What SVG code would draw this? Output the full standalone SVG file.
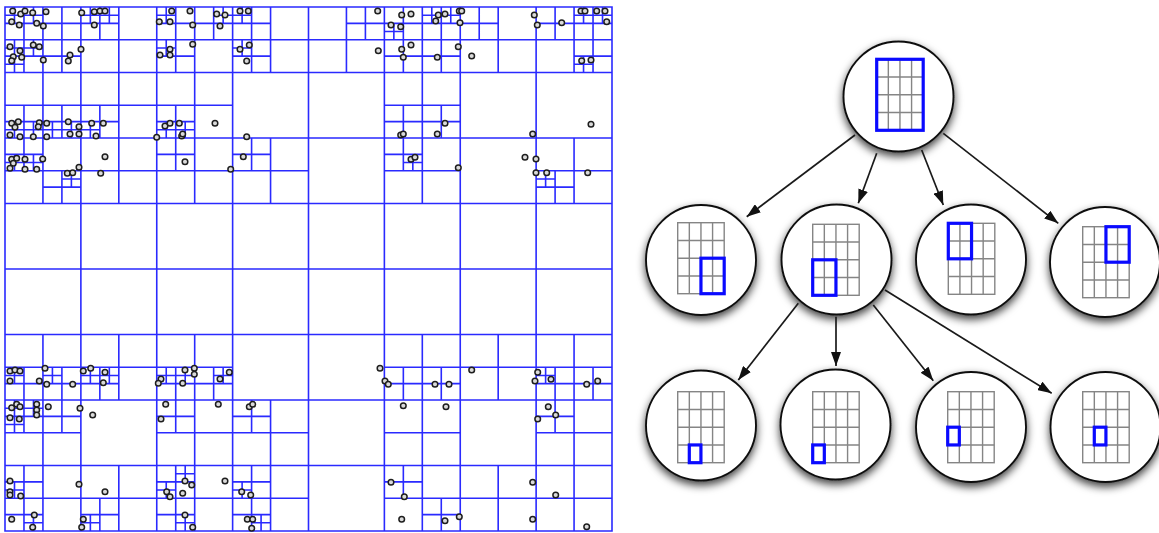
<svg xmlns="http://www.w3.org/2000/svg" width="1159" height="533" viewBox="0 0 1159 533">
<style>
.qt{fill:none;stroke:#2a2aff;stroke-width:1.6;vector-effect:non-scaling-stroke}
.pts circle{fill:#dadada;stroke:#1e1e1e;stroke-width:1.5}
.node{fill:#fff;stroke:#111;stroke-width:1.9;filter:url(#sh)}
.gl{fill:none;stroke:#858585;stroke-width:1.4}
.sel{fill:none;stroke:#0a0aff;stroke-width:3.2}
.edge{fill:none;stroke:#1a1a1a;stroke-width:1.7;marker-end:url(#ah)}
</style>
<defs>
<filter id="sh" x="-30%" y="-30%" width="160%" height="170%"><feDropShadow dx="0" dy="4" stdDeviation="4" flood-color="#000" flood-opacity="0.75"/></filter>
<marker id="ah" viewBox="0 0 14 10" refX="14" refY="5" markerWidth="14" markerHeight="10" markerUnits="userSpaceOnUse" orient="auto"><path d="M0 0L14 5L0 10z" fill="#111"/></marker>
<g id="grid"><rect class="gl" x="0" y="0" width="46.5" height="71"/><path class="gl" d="M11.625 0V71M23.25 0V71M34.875 0V71M0 17.75H46.5M0 35.5H46.5M0 53.25H46.5"/></g>
</defs>
<rect width="1159" height="533" fill="#fff"/>
<g id="quadtree" transform="translate(5 7) scale(9.484375 8.1875)">
<path class="qt" d="M0 0H64V64H0ZM8 0V64M16 0V64M24 0V64M32 0V64M40 0V64M48 0V64M56 0V64M0 8H64M0 16H64M0 24H64M0 32H64M0 40H64M0 48H64M0 56H64"/>
<path class="qt" d="M0 4h8M4 0v8M0 2h4M2 0v4M0 1h2M1 0v2M2 1h2M3 0v2M4 2h4M6 0v4M0 6h4M2 4v4M0 5h2M1 4v2M2 5h2M3 4v2M0 7h2M1 6v2M4 6h4M6 4v4
M8 4h8M12 0v8M8 2h4M10 0v4M8 1h2M9 0v2M10 1h2M11 0v2
M16 4h8M20 0v8M16 2h4M18 0v4M16 1h2M17 0v2M20 2h4M22 0v4M22 1h2M23 0v2M16 6h4M18 4v4M16 5h2M17 4v2
M24 4h8M28 0v8M24 2h4M26 0v4M24 1h2M25 0v2M24 6h4M26 4v4M24 5h2M25 4v2
M32 4h8M36 0v8M36 2h4M38 0v4
M40 4h8M44 0v8M40 2h4M42 0v4M40 3h2M41 2v2M44 2h4M46 0v4M44 1h2M45 0v2M46 1h2M47 0v2M40 6h4M42 4v4M44 6h4M46 4v4
M48 4h8M52 0v8M48 2h4M50 0v4
M56 4h8M60 0v8M56 2h4M58 0v4M60 2h4M62 0v4M60 1h2M61 0v2M62 1h2M63 0v2M60 6h4M62 4v4M60 7h2M61 6v2
M0 12h8M4 8v8M0 14h4M2 12v4M0 15h2M1 14v2M2 15h2M3 14v2M4 14h4M6 12v4M4 15h2M5 14v2M6 15h2M7 14v2
M8 12h8M12 8v8M8 14h4M10 12v4M8 15h2M9 14v2
M16 12h8M20 8v8M16 14h4M18 12v4M16 15h2M17 14v2M18 15h2M19 14v2
M40 12h8M44 8v8M40 14h4M42 12v4M44 14h4M46 12v4
M0 20h8M4 16v8M0 18h4M2 16v4M0 19h2M1 18v2M2 19h2M3 18v2M4 22h4M6 20v4M6 21h2M7 20v2
M8 20h8M12 16v8
M16 20h8M20 16v8M16 18h4M18 16v4
M24 20h8M28 16v8M24 18h4M26 16v4
M40 20h8M44 16v8M40 18h4M42 16v4M42 19h2M43 18v2
M56 20h8M60 16v8M56 22h4M58 20v4M56 21h2M57 20v2
M0 44h8M4 40v8M0 46h4M2 44v4M0 45h2M1 44v2M4 46h4M6 44v4M4 45h2M5 44v2
M8 44h8M12 40v8M8 46h4M10 44v4M8 45h2M9 44v2M10 45h2M11 44v2
M16 44h8M20 40v8M16 46h4M18 44v4M16 45h2M17 44v2M18 45h2M19 44v2M20 46h4M22 44v4M22 45h2M23 44v2
M40 44h8M44 40v8M40 46h4M42 44v4M44 46h4M46 44v4
M48 44h8M52 40v8
M56 44h8M60 40v8M56 46h4M58 44v4M56 45h2M57 44v2M60 46h4M62 44v4
M0 52h8M4 48v8M0 50h4M2 48v4M0 49h2M1 48v2M2 49h2M3 48v2M0 51h2M1 50v2M4 50h4M6 48v4
M16 52h8M20 48v8M16 50h4M18 48v4
M24 52h8M28 48v8M24 50h4M26 48v4
M40 52h8M44 48v8
M56 52h8M60 48v8M56 50h4M58 48v4
M0 60h8M4 56v8M0 58h4M2 56v4M0 59h2M1 58v2M0 62h4M2 60v4M2 63h2M3 62v2
M8 60h8M12 56v8M8 62h4M10 60v4M8 63h2M9 62v2
M16 60h8M20 56v8M16 58h4M18 56v4M18 57h2M19 56v2M16 59h2M17 58v2M16 62h4M18 60v4M18 63h2M19 62v2
M24 60h8M28 56v8M24 58h4M26 56v4M24 59h2M25 58v2M24 62h4M26 60v4M26 63h2M27 62v2
M40 60h8M44 56v8M40 58h4M42 56v4M44 62h4M46 60v4
M48 60h8M52 56v8
M56 60h8M60 56v8"/>
</g>
<g id="points" class="pts">
<circle cx="12.7" cy="11" r="2.8"/><circle cx="20.7" cy="14" r="2.8"/><circle cx="25" cy="11" r="2.8"/><circle cx="32.7" cy="12.7" r="2.8"/><circle cx="46" cy="11.7" r="2.8"/><circle cx="11.7" cy="21.7" r="2.8"/><circle cx="19.3" cy="25" r="2.8"/><circle cx="36.7" cy="23.3" r="2.8"/><circle cx="43.3" cy="26" r="2.8"/>
<circle cx="81.7" cy="12.7" r="2.8"/><circle cx="94.3" cy="11.7" r="2.8"/><circle cx="100" cy="11" r="2.8"/><circle cx="105" cy="11" r="2.8"/><circle cx="94.3" cy="25" r="2.8"/>
<circle cx="171.7" cy="11" r="2.8"/><circle cx="190" cy="11" r="2.8"/><circle cx="159.3" cy="21.7" r="2.8"/><circle cx="170" cy="21.7" r="2.8"/><circle cx="192.7" cy="25" r="2.8"/><circle cx="216.7" cy="14" r="2.8"/><circle cx="225" cy="15" r="2.8"/><circle cx="220" cy="26" r="2.8"/><circle cx="240" cy="11" r="2.8"/><circle cx="248.3" cy="11" r="2.8"/>
<circle cx="10" cy="46.7" r="2.8"/><circle cx="20" cy="50.7" r="2.8"/><circle cx="13.3" cy="56.7" r="2.8"/><circle cx="11.7" cy="60.7" r="2.8"/><circle cx="21.7" cy="57.3" r="2.8"/><circle cx="33.3" cy="45" r="2.8"/><circle cx="39.3" cy="46.7" r="2.8"/><circle cx="43.3" cy="60" r="2.8"/><circle cx="70" cy="55" r="2.8"/><circle cx="68.3" cy="61" r="2.8"/><circle cx="81" cy="49.3" r="2.8"/>
<circle cx="192.7" cy="44.3" r="2.8"/><circle cx="170" cy="49.3" r="2.8"/><circle cx="160" cy="55" r="2.8"/><circle cx="170" cy="55" r="2.8"/><circle cx="240" cy="49.3" r="2.8"/><circle cx="249.3" cy="45" r="2.8"/><circle cx="246.7" cy="61" r="2.8"/>
<circle cx="11.7" cy="123.3" r="2.8"/><circle cx="18.3" cy="121.7" r="2.8"/><circle cx="15" cy="127.3" r="2.8"/><circle cx="10" cy="135" r="2.8"/><circle cx="20" cy="136.7" r="2.8"/><circle cx="33.3" cy="136.7" r="2.8"/><circle cx="39.3" cy="122.7" r="2.8"/><circle cx="46.7" cy="123.3" r="2.8"/><circle cx="38.3" cy="126.7" r="2.8"/><circle cx="46.7" cy="136.7" r="2.8"/><circle cx="68.3" cy="121.7" r="2.8"/><circle cx="79" cy="126.7" r="2.8"/><circle cx="70" cy="134" r="2.8"/><circle cx="79" cy="134" r="2.8"/>
<circle cx="91.7" cy="123.3" r="2.8"/><circle cx="103.3" cy="123.3" r="2.8"/><circle cx="96" cy="136" r="2.8"/><circle cx="165" cy="126" r="2.8"/><circle cx="170" cy="123.3" r="2.8"/><circle cx="179.3" cy="123.3" r="2.8"/><circle cx="156.7" cy="137.3" r="2.8"/><circle cx="181.7" cy="136" r="2.8"/><circle cx="182.7" cy="134" r="2.8"/><circle cx="215" cy="123.3" r="2.8"/><circle cx="246.7" cy="136.7" r="2.8"/>
<circle cx="11.7" cy="159.3" r="2.8"/><circle cx="16.7" cy="158.3" r="2.8"/><circle cx="13.3" cy="163.3" r="2.8"/><circle cx="10" cy="168.3" r="2.8"/><circle cx="25" cy="159.3" r="2.8"/><circle cx="25" cy="169.3" r="2.8"/><circle cx="36.7" cy="169.3" r="2.8"/><circle cx="42.7" cy="159" r="2.8"/><circle cx="67.3" cy="173.3" r="2.8"/><circle cx="72.7" cy="172.7" r="2.8"/><circle cx="79" cy="167.3" r="2.8"/><circle cx="100.7" cy="173.3" r="2.8"/><circle cx="105" cy="156.7" r="2.8"/><circle cx="185" cy="161.7" r="2.8"/><circle cx="243.3" cy="156.7" r="2.8"/><circle cx="230.7" cy="169.3" r="2.8"/>
<circle cx="377.7" cy="11" r="2.8"/><circle cx="401.7" cy="15" r="2.8"/><circle cx="411" cy="14" r="2.8"/><circle cx="391" cy="25" r="2.8"/><circle cx="400.7" cy="26.7" r="2.8"/><circle cx="435.7" cy="21" r="2.8"/><circle cx="438.3" cy="15" r="2.8"/><circle cx="445" cy="14" r="2.8"/><circle cx="459.3" cy="11" r="2.8"/><circle cx="461.7" cy="11" r="2.8"/><circle cx="460" cy="22.7" r="2.8"/><circle cx="534.3" cy="15" r="2.8"/><circle cx="537.3" cy="25" r="2.8"/><circle cx="561.7" cy="22.7" r="2.8"/><circle cx="581" cy="11" r="2.8"/><circle cx="585" cy="11" r="2.8"/><circle cx="596.7" cy="11" r="2.8"/><circle cx="605" cy="11" r="2.8"/><circle cx="606.7" cy="21.7" r="2.8"/>
<circle cx="378.3" cy="50.7" r="2.8"/><circle cx="401.7" cy="49.3" r="2.8"/><circle cx="411" cy="45" r="2.8"/><circle cx="403.3" cy="57.3" r="2.8"/><circle cx="437.3" cy="57.3" r="2.8"/><circle cx="458.3" cy="46.7" r="2.8"/><circle cx="471.7" cy="56" r="2.8"/><circle cx="581.7" cy="60.7" r="2.8"/><circle cx="591" cy="60" r="2.8"/>
<circle cx="445" cy="123.3" r="2.8"/><circle cx="437.3" cy="134" r="2.8"/><circle cx="400.7" cy="135" r="2.8"/><circle cx="403.3" cy="134" r="2.8"/><circle cx="532.7" cy="134" r="2.8"/><circle cx="591" cy="124.3" r="2.8"/>
<circle cx="411" cy="159.3" r="2.8"/><circle cx="415" cy="157.3" r="2.8"/><circle cx="458.3" cy="167.7" r="2.8"/><circle cx="525" cy="157.3" r="2.8"/><circle cx="536" cy="159" r="2.8"/><circle cx="536" cy="172.7" r="2.8"/><circle cx="546.7" cy="172.7" r="2.8"/><circle cx="587.7" cy="172.7" r="2.8"/>
<circle cx="10" cy="371" r="2.8"/><circle cx="15" cy="370" r="2.8"/><circle cx="20" cy="371" r="2.8"/><circle cx="10" cy="381" r="2.8"/><circle cx="45" cy="368.3" r="2.8"/><circle cx="39.3" cy="381" r="2.8"/><circle cx="46.7" cy="384.3" r="2.8"/><circle cx="72.7" cy="384.3" r="2.8"/><circle cx="83.3" cy="371" r="2.8"/><circle cx="90.7" cy="368.3" r="2.8"/><circle cx="105" cy="372.3" r="2.8"/><circle cx="103.3" cy="382.7" r="2.8"/>
<circle cx="161" cy="379" r="2.8"/><circle cx="158.3" cy="383.3" r="2.8"/><circle cx="185" cy="370" r="2.8"/><circle cx="194.3" cy="368.3" r="2.8"/><circle cx="194.3" cy="374.3" r="2.8"/><circle cx="182.7" cy="383.3" r="2.8"/><circle cx="220" cy="379" r="2.8"/><circle cx="229.3" cy="372.3" r="2.8"/>
<circle cx="11.7" cy="407.7" r="2.8"/><circle cx="16.7" cy="404.3" r="2.8"/><circle cx="20" cy="406.7" r="2.8"/><circle cx="10" cy="417.7" r="2.8"/><circle cx="19.3" cy="419" r="2.8"/><circle cx="36.7" cy="404.3" r="2.8"/><circle cx="36.7" cy="410" r="2.8"/><circle cx="36.7" cy="415" r="2.8"/><circle cx="48.3" cy="406.7" r="2.8"/><circle cx="80" cy="408.3" r="2.8"/><circle cx="92.7" cy="415" r="2.8"/><circle cx="165.7" cy="404.3" r="2.8"/><circle cx="161" cy="419" r="2.8"/><circle cx="218.3" cy="404.3" r="2.8"/><circle cx="249.3" cy="406.7" r="2.8"/><circle cx="252.7" cy="404.3" r="2.8"/>
<circle cx="10" cy="481" r="2.8"/><circle cx="10" cy="491.7" r="2.8"/><circle cx="10" cy="495" r="2.8"/><circle cx="20.7" cy="496" r="2.8"/><circle cx="11.7" cy="519.3" r="2.8"/><circle cx="34.3" cy="515" r="2.8"/><circle cx="32.7" cy="527.3" r="2.8"/><circle cx="79" cy="484.3" r="2.8"/><circle cx="105" cy="491.7" r="2.8"/><circle cx="83.3" cy="519.3" r="2.8"/><circle cx="81.7" cy="527.3" r="2.8"/>
<circle cx="185" cy="481" r="2.8"/><circle cx="191.7" cy="485" r="2.8"/><circle cx="166.7" cy="491.7" r="2.8"/><circle cx="170" cy="496.7" r="2.8"/><circle cx="182.7" cy="493.3" r="2.8"/><circle cx="225" cy="481" r="2.8"/><circle cx="185" cy="515" r="2.8"/><circle cx="192.7" cy="527.3" r="2.8"/><circle cx="241.7" cy="491.7" r="2.8"/><circle cx="250.7" cy="495" r="2.8"/><circle cx="247.3" cy="519.3" r="2.8"/><circle cx="252.7" cy="519.3" r="2.8"/><circle cx="251.7" cy="528.3" r="2.8"/>
<circle cx="380" cy="368.3" r="2.8"/><circle cx="385" cy="381" r="2.8"/><circle cx="388.3" cy="384.3" r="2.8"/><circle cx="435" cy="384.3" r="2.8"/><circle cx="449" cy="384.3" r="2.8"/><circle cx="471.7" cy="370" r="2.8"/><circle cx="535" cy="381" r="2.8"/><circle cx="537.7" cy="372.3" r="2.8"/><circle cx="551" cy="379.3" r="2.8"/><circle cx="586.7" cy="384.3" r="2.8"/><circle cx="597.7" cy="381" r="2.8"/>
<circle cx="403.3" cy="405.7" r="2.8"/><circle cx="446" cy="406.7" r="2.8"/><circle cx="548.3" cy="406.7" r="2.8"/><circle cx="555.7" cy="415" r="2.8"/><circle cx="537.7" cy="419" r="2.8"/>
<circle cx="391" cy="482.3" r="2.8"/><circle cx="404.3" cy="496.7" r="2.8"/><circle cx="401.7" cy="519.3" r="2.8"/><circle cx="445" cy="520.7" r="2.8"/><circle cx="459.3" cy="516.7" r="2.8"/><circle cx="532.7" cy="482.3" r="2.8"/><circle cx="532.7" cy="519.3" r="2.8"/><circle cx="555.7" cy="495" r="2.8"/><circle cx="586.7" cy="526.7" r="2.8"/>
</g>
<g id="root"><circle class="node" cx="898.5" cy="96.5" r="55"/><use href="#grid" x="876.7" y="59.3"/><rect class="sel" x="876.7" y="59.3" width="46.5" height="71"/></g>
<g id="child1"><circle class="node" cx="701" cy="260" r="55"/><use href="#grid" x="677.7" y="222.7"/><rect class="sel" x="700.95" y="258.2" width="23.25" height="35.5"/></g>
<g id="child2"><circle class="node" cx="836.5" cy="259.5" r="55"/><use href="#grid" x="812.7" y="224.3"/><rect class="sel" x="812.7" y="259.8" width="23.25" height="35.5"/></g>
<g id="child3"><circle class="node" cx="971" cy="259.5" r="55"/><use href="#grid" x="948.3" y="223.3"/><rect class="sel" x="948.3" y="223.3" width="23.25" height="35.5"/></g>
<g id="child4"><circle class="node" cx="1105" cy="262" r="55"/><use href="#grid" x="1082.7" y="226.7"/><rect class="sel" x="1105.95" y="226.7" width="23.25" height="35.5"/></g>
<g id="leafA"><circle class="node" cx="701" cy="425.5" r="55"/><use href="#grid" x="677.7" y="391.7"/><rect class="sel" x="689.3" y="444.95" width="11.625" height="17.75"/></g>
<g id="leafB"><circle class="node" cx="835.5" cy="424.5" r="55"/><use href="#grid" x="812.7" y="391.7"/><rect class="sel" x="812.7" y="444.95" width="11.625" height="17.75"/></g>
<g id="leafC"><circle class="node" cx="971" cy="427" r="55"/><use href="#grid" x="947.7" y="391.7"/><rect class="sel" x="947.7" y="427.2" width="11.625" height="17.75"/></g>
<g id="leafD"><circle class="node" cx="1105.5" cy="427" r="55"/><use href="#grid" x="1082.7" y="391.7"/><rect class="sel" x="1094.3" y="427.2" width="11.625" height="17.75"/></g>
<g id="connectors">
<path class="edge" d="M855 135L746.7 216.7"/>
<path class="edge" d="M876.7 153.3L858.3 203.3"/>
<path class="edge" d="M921.7 150L943.3 205"/>
<path class="edge" d="M943.3 133.3L1058.3 223.3"/>
<path class="edge" d="M798.3 303.3L738.3 380"/>
<path class="edge" d="M836 316.7L836 366"/>
<path class="edge" d="M873.3 305L933.3 380.7"/>
<path class="edge" d="M885 290L1051.7 393.3"/>
</g>
</svg>
